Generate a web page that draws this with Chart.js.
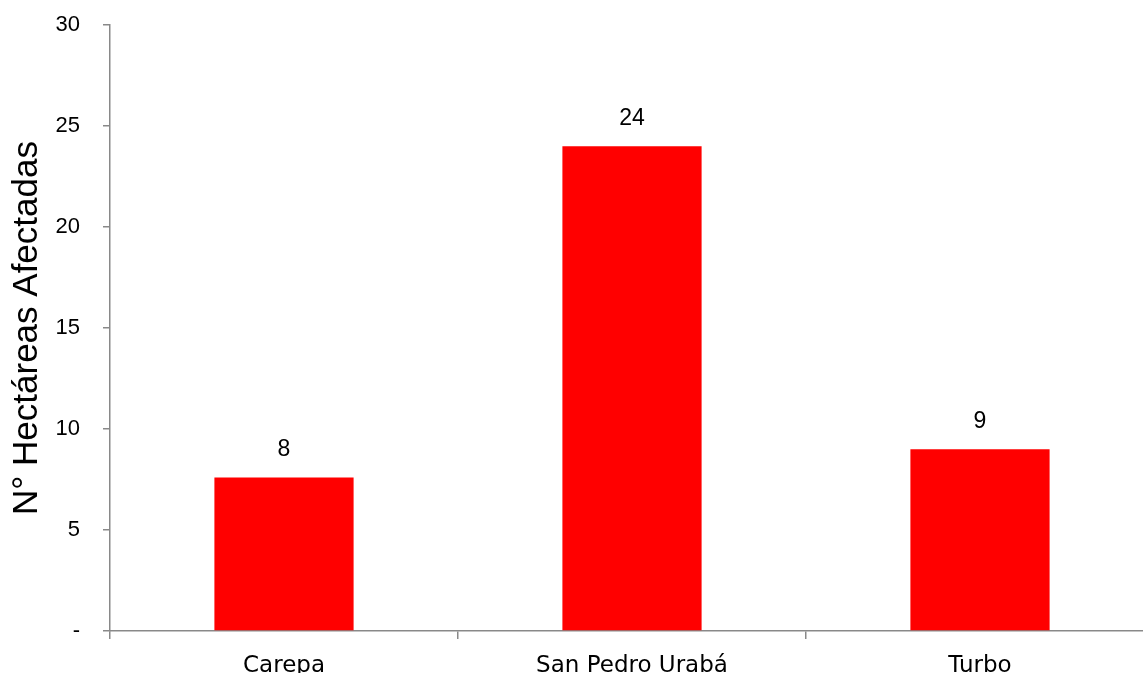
<!DOCTYPE html>
<html>
<head>
<meta charset="utf-8">
<script src="https://cdn.jsdelivr.net/npm/chart.js@4.4.1/dist/chart.umd.min.js"></script>
<style>
  html, body { margin: 0; padding: 0; background: #fff; overflow: hidden; }
  #wrap { width: 1154px; height: 673px; }
</style>
</head>
<body>
<div id="wrap"><canvas id="chartHa"></canvas></div>
<script>
const municipios = ['Carepa', 'San Pedro Urabá', 'Turbo'];
const hectareas = [7.6, 24, 9];
const yTicks = [0, 5, 10, 15, 20, 25, 30];

const axisGray = '#898989';

// etiqueta encima de cada barra (valor redondeado)
const valueLabels = {
    id: 'valueLabels',
    afterDatasetsDraw(chart) {
        const c = chart.ctx;
        const meta = chart.getDatasetMeta(0);
        c.save();
        c.font = '23px "Liberation Sans", Arial, sans-serif';
        c.fillStyle = '#000';
        c.textAlign = 'center';
        c.textBaseline = 'middle';
        meta.data.forEach((bar, i) => {
            c.fillText(Math.round(hectareas[i]), bar.x, bar.y - 27.5);
        });
        c.restore();
    }
};

const ctx = document.getElementById('chartHa');
const ch = new Chart(ctx, {
    type: 'bar',
    data: {
        labels: municipios,
        datasets: [{
            label: 'Hectáreas',
            data: hectareas,
            backgroundColor: '#ff0000',
            borderWidth: 0,
            barPercentage: 0.4,
            categoryPercentage: 1
        }]
    },
    options: {
        responsive: true,
        maintainAspectRatio: false,
        animation: false,
        layout: { padding: { top: 25, right: 0, bottom: 0, left: 0 } },
        plugins: {
            legend: { display: false },
            tooltip: { enabled: false }
        },
        scales: {
            x: {
                offset: true,
                grid: {
                    display: true,
                    offset: true,
                    drawOnChartArea: false,
                    drawTicks: true,
                    tickLength: 8,
                    color: axisGray,
                    lineWidth: 1.5
                },
                border: { display: true, color: axisGray, width: 1.5 },
                ticks: {
                    color: '#000',
                    font: { family: '"DejaVu Sans", Verdana, sans-serif', size: 23 },
                    padding: 13,
                    maxRotation: 0
                },
                afterFit(scale) { scale.height = 42; }
            },
            y: {
                min: 0,
                max: 30,
                afterBuildTicks(scale) {
                    scale.ticks = yTicks.map(v => ({ value: v }));
                },
                grid: {
                    display: true,
                    drawOnChartArea: false,
                    drawTicks: true,
                    tickLength: 7,
                    color: axisGray,
                    lineWidth: 1.5
                },
                border: { display: true, color: axisGray, width: 1.5 },
                ticks: {
                    color: '#000',
                    font: { family: '"Liberation Sans", Arial, sans-serif', size: 22 },
                    padding: 23,
                    callback: v => v === 0 ? '-' : v
                },
                title: {
                    display: true,
                    text: 'N° Hectáreas Afectadas',
                    color: '#000',
                    font: { family: '"Liberation Sans", Arial, sans-serif', size: 35 },
                    padding: { top: 6, bottom: 0 }
                },
                afterFit(scale) {
                    scale.width = 110;
                    scale.paddingTop = 0;
                    scale.paddingBottom = 0;
                }
            }
        }
    },
    plugins: [valueLabels]
});
</script>
</body>
</html>
